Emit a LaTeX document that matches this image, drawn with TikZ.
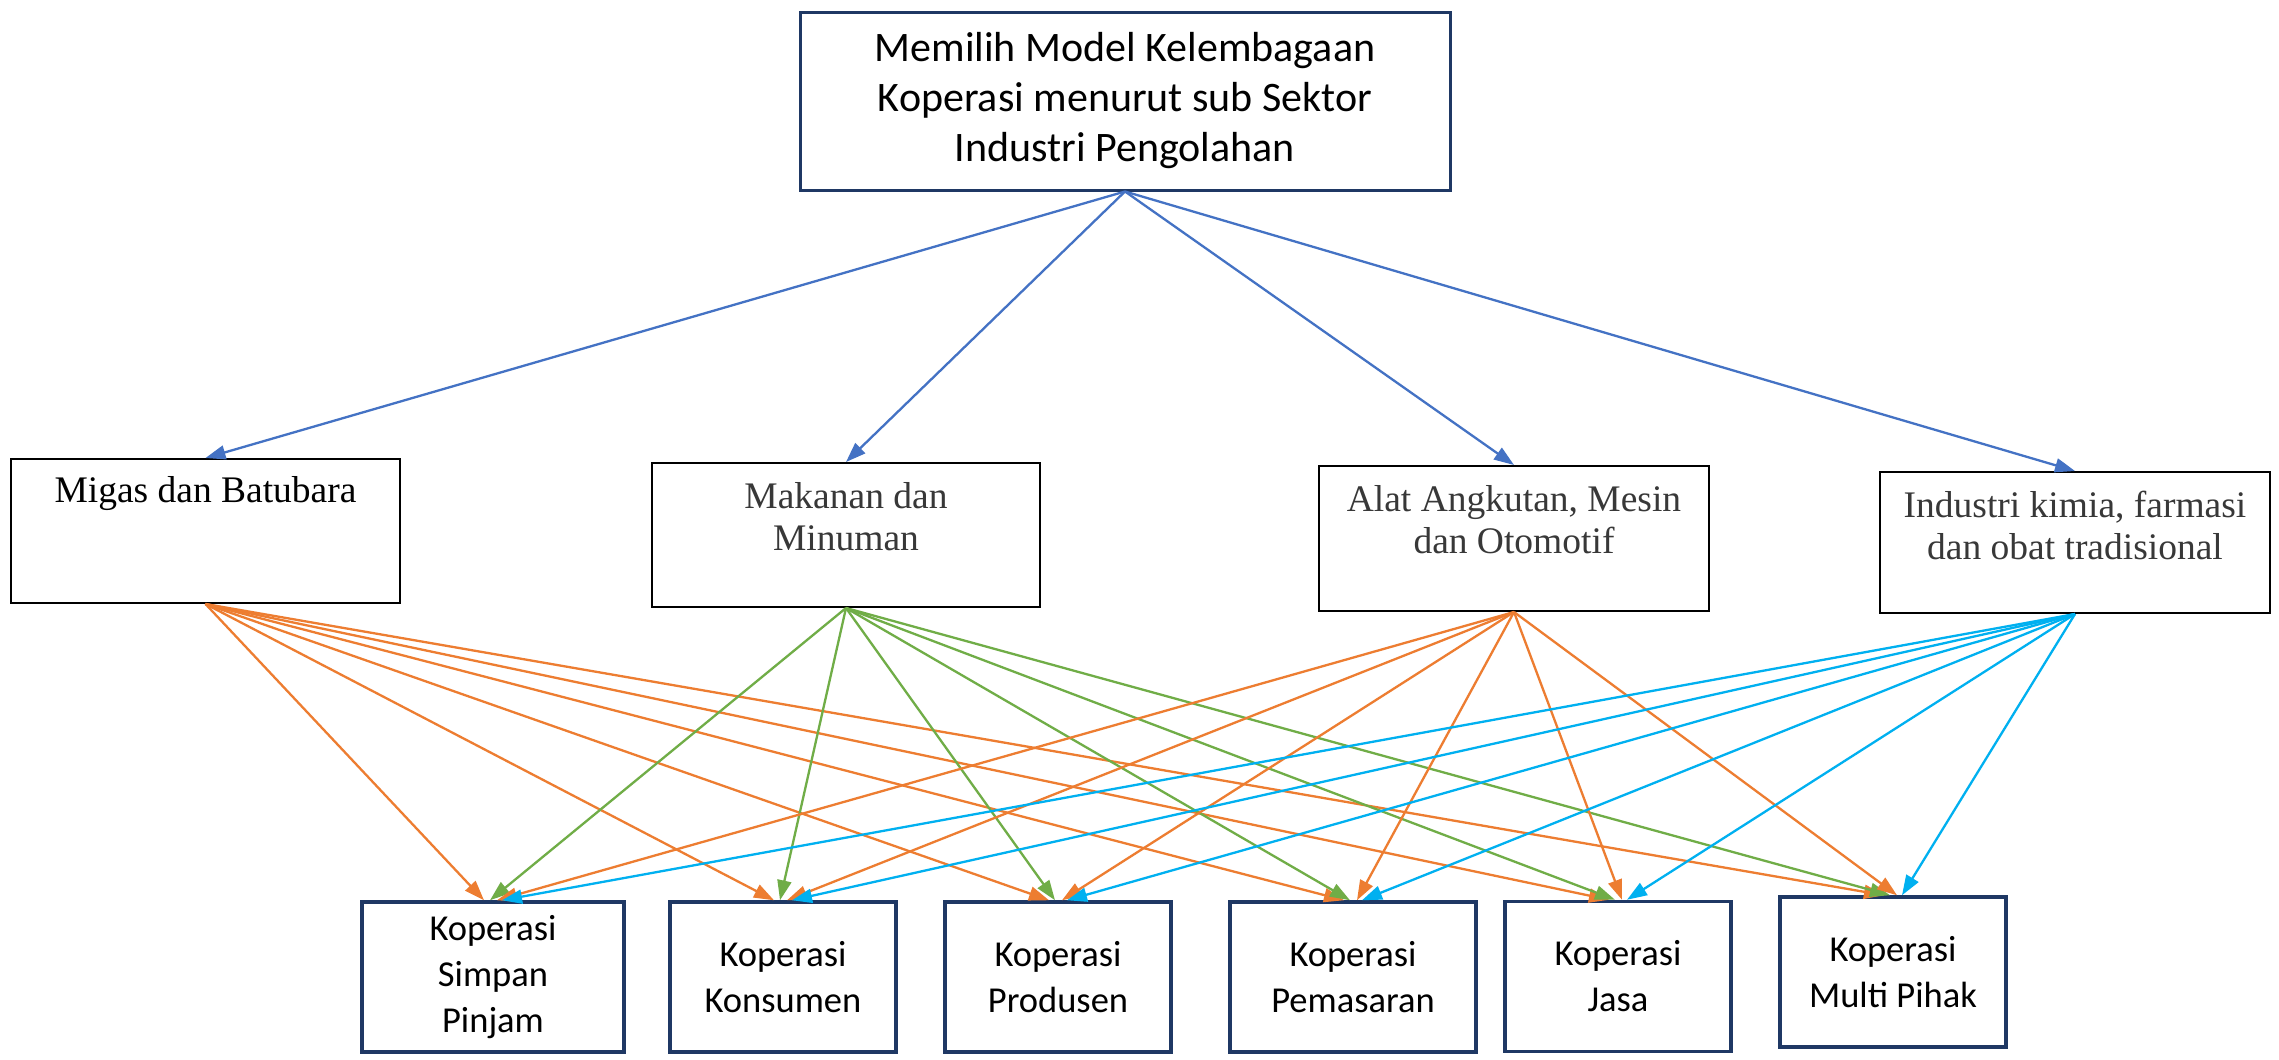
\documentclass[tikz,border=0pt]{standalone}
\usepackage{fontspec}
\setmainfont{Liberation Serif}
\newfontfamily\calfont{Carlito}
\usetikzlibrary{arrows.meta}
\definecolor{navy}{HTML}{1F3864}
\definecolor{topblue}{HTML}{4472C4}
\definecolor{orng}{HTML}{ED7D31}
\definecolor{grn}{HTML}{70AD47}
\definecolor{cyn}{HTML}{00B0F0}
\begin{document}
\begin{tikzpicture}[x=1pt,y=-1pt,
  topbox/.style={draw=navy, line width=3pt, minimum width=650pt, minimum height=178pt, inner sep=0pt, align=center, font=\calfont\fontsize{42}{50}\selectfont},
  midbox/.style={draw=black, line width=2pt, inner sep=0pt},
  midlabel/.style={anchor=north, align=center, inner sep=0pt, font=\fontsize{37.5}{42}\selectfont, text=black!78},
  botbox/.style={draw=navy, line width=3.5pt, minimum height=150pt, inner sep=0pt, align=center, font=\calfont\fontsize{36.5}{46}\selectfont},
  arr/.style={line width=2.3pt, -{Triangle[length=20pt,width=14pt]}},
]
\useasboundingbox (0,0) rectangle (2279,1060);
\fill[white] (0,0) rectangle (2279,1060);
% top
\node[topbox] (top) at (1125,101) {Memilih Model Kelembagaan\\Koperasi menurut sub Sektor\\Industri Pengolahan};
% middle
\node[midbox, minimum width=389pt, minimum height=144pt,
  label={[midlabel, text=black, yshift=-18pt]north:Migas dan Batubara}] (migas) at (205.5,531) {};
\node[midbox, minimum width=388pt, minimum height=144pt,
  label={[midlabel, yshift=-20pt]north:{Makanan dan\\Minuman}}] (makan) at (846,535) {};
\node[midbox, minimum width=390pt, minimum height=145pt,
  label={[midlabel, yshift=-20pt]north:{Alat Angkutan, Mesin\\dan Otomotif}}] (alat) at (1514,538.5) {};
\node[midbox, minimum width=390pt, minimum height=141pt,
  label={[midlabel, yshift=-20pt]north:{Industri kimia, farmasi\\dan obat tradisional}}] (indus) at (2075,542.5) {};
% bottom
\node[botbox, minimum width=262pt] (ksp) at (493,977) {Koperasi\\Simpan\\Pinjam};
\node[botbox, minimum width=226pt] (kons) at (783,977) {Koperasi\\Konsumen};
\node[botbox, minimum width=226pt] (prod) at (1058,977) {Koperasi\\Produsen};
\node[botbox, minimum width=246pt] (pema) at (1353,977) {Koperasi\\Pemasaran};
\node[botbox, minimum width=226pt] (jasa) at (1618,976.5) {Koperasi\\Jasa};
\node[botbox, minimum width=226pt] (multi) at (1893,972) {Koperasi\\Multi Pihak};
% top arrows
\foreach \t in {migas,makan,alat,indus}
  \draw[arr, topblue] (top.south) -- (\t.north);
% lower arrows
\foreach \s/\c/\o in {migas/orng/-9, makan/grn/-3, alat/orng/4, indus/cyn/9}
  \foreach \t in {ksp,kons,prod,pema,jasa,multi}
    \draw[arr, \c] (\s.south) -- ([xshift=\o pt]\t.north);
\end{tikzpicture}
\end{document}
